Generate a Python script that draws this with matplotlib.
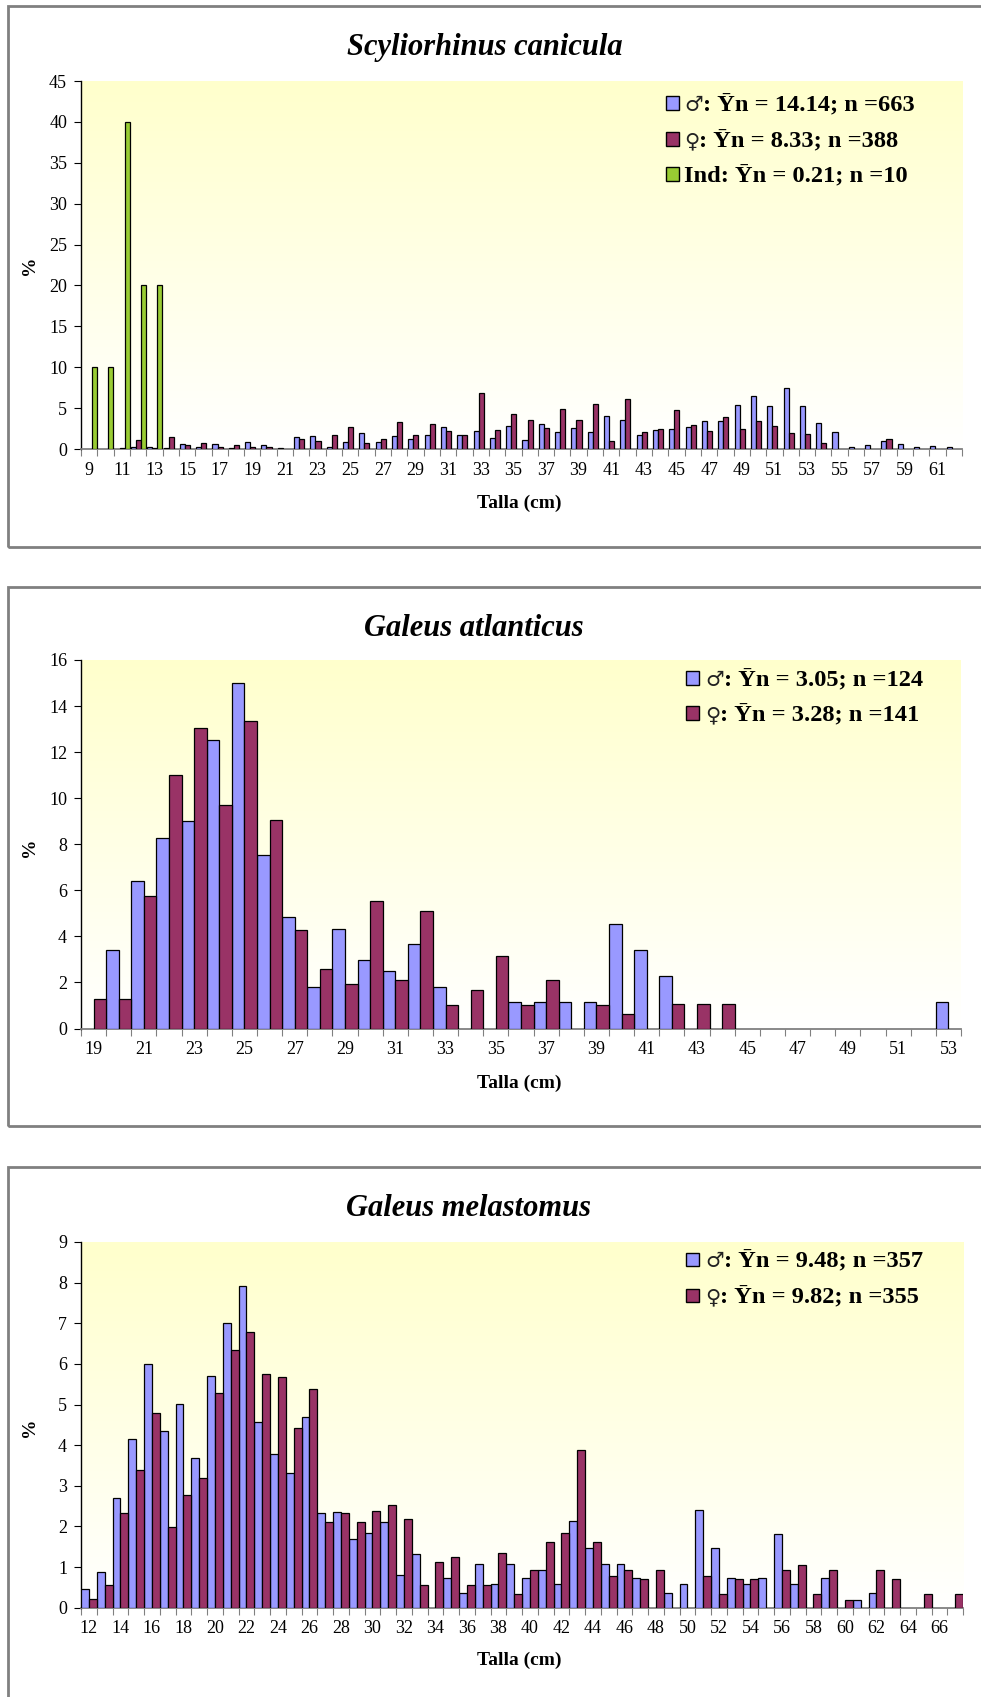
import matplotlib.pyplot as plt
import numpy as np
from matplotlib.colors import LinearSegmentedColormap
from matplotlib.patches import Rectangle

# ==========================================
# DATOS (% por talla)
# ==========================================

# Scyliorhinus canicula, tallas 9..62 cm
tallas_sc = list(range(9, 63))
machos_sc = [0, 0, 0, 0.3, 0.2, 0.15, 0.66, 0.3, 0.57, 0.15,
             0.86, 0.53, 0.15, 1.48, 1.64, 0.3, 0.86, 1.93, 0.86, 1.6,
             1.19, 1.76, 2.66, 1.76, 2.25, 1.35, 2.83, 1.15, 3.03, 2.05,
             2.58, 2.09, 4.02, 3.57, 1.76, 2.38, 2.5, 2.66, 3.4, 3.4,
             5.41, 6.43, 5.25, 7.5, 5.25, 3.2, 2.13, 0.25, 0.53, 1.02,
             0.57, 0.25, 0.37, 0.25]
hembras_sc = [0, 0, 0.15, 1.07, 0.15, 1.43, 0.45, 0.78, 0.26, 0.5,
              0.26, 0.2, 0, 1.27, 1.02, 1.76, 2.75, 0.74, 1.23, 3.36,
              1.76, 3.07, 2.25, 1.76, 6.9, 2.3, 4.34, 3.57, 2.54, 4.88,
              3.57, 5.53, 1.02, 6.07, 2.05, 2.5, 4.8, 2.95, 2.25, 3.93,
              2.46, 3.44, 2.87, 2.0, 1.89, 0.7, 0, 0, 0, 1.27,
              0, 0, 0, 0]
ind_sc = [10, 10, 40, 20, 20] + [0] * 49

# Galeus atlanticus, tallas 19..53 cm
tallas_ga = list(range(19, 54))
machos_ga = [0, 3.43, 6.42, 8.29, 8.99, 12.52, 14.99, 7.55, 4.84, 1.81,
             4.33, 2.96, 2.51, 3.65, 1.81, 0, 0, 1.13, 1.13, 1.13,
             1.13, 4.54, 3.42, 2.28, 0, 0, 0, 0, 0, 0,
             0, 0, 0, 0, 1.13]
hembras_ga = [1.28, 1.28, 5.77, 11.01, 13.04, 9.72, 13.36, 9.07, 4.26, 2.57,
              1.93, 5.55, 2.1, 5.09, 1.04, 1.68, 3.16, 1.04, 2.12, 0,
              1.04, 0.65, 0, 1.06, 1.06, 1.06, 0, 0, 0, 0,
              0, 0, 0, 0, 0]

# Galeus melastomus, tallas 12..67 cm
tallas_gm = list(range(12, 68))
machos_gm = [0.45, 0.89, 2.69, 4.16, 5.99, 4.34, 5.02, 3.68, 5.70, 7.01,
             7.92, 4.56, 3.79, 3.31, 4.70, 2.34, 2.36, 1.70, 1.84, 2.12,
             0.81, 1.31, 0, 0.72, 0.36, 1.08, 0.59, 1.08, 0.73, 0.94,
             0.58, 2.14, 1.46, 1.08, 1.08, 0.73, 0, 0.36, 0.58, 2.41,
             1.46, 0.73, 0.58, 0.73, 1.82, 0.58, 0, 0.73, 0, 0.2,
             0.36, 0, 0, 0, 0, 0]
hembras_gm = [0.21, 0.57, 2.34, 3.39, 4.80, 1.99, 2.77, 3.2, 5.28, 6.34,
              6.79, 5.75, 5.68, 4.43, 5.37, 2.12, 2.34, 2.11, 2.39, 2.53,
              2.19, 0.57, 1.13, 1.26, 0.57, 0.57, 1.34, 0.34, 0.92, 1.62,
              1.83, 3.89, 1.62, 0.78, 0.92, 0.70, 0.92, 0, 0, 0.78,
              0.34, 0.70, 0.70, 0, 0.92, 1.06, 0.34, 0.92, 0.2, 0,
              0.92, 0.70, 0, 0.34, 0, 0.34]

# leyendas: (simbolo, resto del texto)
leyenda_sc = [("\u2642", ": \u0232n = 14.14; n =663"),
              ("\u2640", ": \u0232n = 8.33; n =388"),
              ("", "Ind: \u0232n = 0.21; n =10")]
leyenda_ga = [("\u2642", ": \u0232n = 3.05; n =124"),
              ("\u2640", ": \u0232n = 3.28; n =141")]
leyenda_gm = [("\u2642", ": \u0232n = 9.48; n =357"),
              ("\u2640", ": \u0232n = 9.82; n =355")]

AZUL = "#9999FF"
GRANATE = "#993366"
VERDE = "#99CC33"

plt.rcParams["font.family"] = ["Liberation Serif", "DejaVu Serif"]

W, H = 981, 1697
fig = plt.figure(figsize=(W / 100, H / 100), dpi=100)
renderer = fig.canvas.get_renderer()
fondo = LinearSegmentedColormap.from_list("fondo", ["#FFFFFF", "#FFFFCC"])


def px(x, y):
    """Pixel (desde arriba a la izquierda) -> fraccion de figura."""
    return x / W, 1 - y / H


def leyenda(filas, colores, x_marca, x_texto, y_filas):
    for (simbolo, resto), color, y in zip(filas, colores, y_filas):
        fig.add_artist(Rectangle(px(x_marca, y + 6.5), 13 / W, 13 / H,
                                 transform=fig.transFigure, facecolor=color,
                                 edgecolor="black", linewidth=1.0))
        base = y + 8
        x = x_texto
        if simbolo:
            t = fig.text(*px(x, base), simbolo, family="DejaVu Sans",
                         fontsize=15, va="baseline", ha="left", color="#222222")
            x = t.get_window_extent(renderer).x1
        fig.text(*px(x, base), resto, fontsize=17.6, fontweight="bold",
                 va="baseline", ha="left")


def panel(caja, area, titulo, titulo_x, tallas, series, ymax, ypaso,
          ancho, offsets, xlabel_y, ylabel_y):
    # marco gris alrededor del grafico
    x0, y0 = px(caja[0], caja[3])
    fig.add_artist(Rectangle((x0, y0), (caja[2] - caja[0]) / W,
                             (caja[3] - caja[1]) / H, transform=fig.transFigure,
                             fill=False, edgecolor="#808080", linewidth=2))

    l, t, r, b = area
    ax = fig.add_axes([l / W, 1 - b / H, (r - l) / W, (b - t) / H])
    ax.imshow(np.linspace(0, 1, 256).reshape(-1, 1), extent=[0, 1, 0, 1],
              transform=ax.transAxes, cmap=fondo, aspect="auto",
              origin="lower", zorder=0)

    x = np.arange(len(tallas))
    for (vals, color), off in zip(series, offsets):
        vals = np.asarray(vals, dtype=float)
        m = vals > 0
        ax.bar(x[m] + off, vals[m], width=ancho, color=color,
               edgecolor="black", linewidth=0.9, zorder=3)

    ax.set_xlim(-0.5, len(tallas) - 0.5)
    ax.set_ylim(0, ymax)

    ax.set_xticks(np.arange(len(tallas) + 1) - 0.5)
    ax.set_xticklabels([])
    ax.set_xticks(x[::2], minor=True)
    ax.set_xticklabels([str(v) for v in tallas[::2]], minor=True)
    ax.tick_params(axis="x", which="major", length=5, direction="out",
                   color="#808080")
    ax.tick_params(axis="x", which="minor", length=0, pad=9, labelsize=13)
    ax.set_yticks(np.arange(0, ymax + 0.01, ypaso))
    ax.tick_params(axis="y", length=5, direction="out", pad=5, labelsize=13)

    for s in ["top", "right"]:
        ax.spines[s].set_visible(False)
    ax.spines["bottom"].set_color("#808080")
    ax.spines["bottom"].set_linewidth(1.3)
    ax.spines["left"].set_linewidth(1.0)

    fig.text(*px(titulo_x, caja[1] + 41), titulo, ha="center", va="center",
             fontsize=22, fontweight="bold", fontstyle="italic")
    fig.text(*px(519, xlabel_y), "Talla (cm)", ha="center", va="center",
             fontsize=14, fontweight="bold")
    fig.text(*px(30, ylabel_y), "%", ha="center", va="center", rotation=90,
             fontsize=14, fontweight="bold")
    return ax


# ==========================================
# PANELES
# ==========================================
panel((8, 6, W + 10, 547), (81, 81, 962, 449), "Scyliorhinus canicula", 485,
      tallas_sc, [(machos_sc, AZUL), (hembras_sc, GRANATE), (ind_sc, VERDE)],
      45, 5, 0.31, [-0.285, 0.025, 0.335], 503, 265)
leyenda(leyenda_sc, [AZUL, GRANATE, VERDE], 666, 684, [103, 139, 174])

panel((8, 587, W + 10, 1126), (81, 660, 961, 1028.5), "Galeus atlanticus", 474,
      tallas_ga, [(machos_ga, AZUL), (hembras_ga, GRANATE)],
      16, 2, 0.5, [-0.25, 0.25], 1083, 847)
leyenda(leyenda_ga, [AZUL, GRANATE], 686, 705, [678, 713])

panel((8, 1167, W + 10, H + 10), (81, 1242, 963, 1607.7), "Galeus melastomus",
      469, tallas_gm, [(machos_gm, AZUL), (hembras_gm, GRANATE)],
      9, 1, 0.5, [-0.25, 0.25], 1660, 1427)
leyenda(leyenda_gm, [AZUL, GRANATE], 686, 705, [1259, 1295])

fig.savefig("out.png", dpi=100)
